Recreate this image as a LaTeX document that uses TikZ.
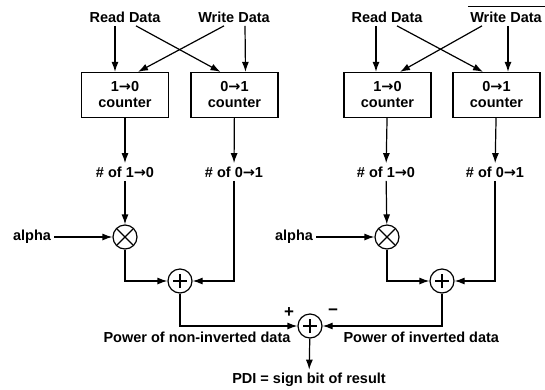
\documentclass[tikz,border=0pt]{standalone}
\usepackage{fontspec}
\setmainfont{Liberation Sans}
\newfontfamily\arrowfont{DejaVu Sans}
\newcommand\flip{{\arrowfont\bfseries →}}
\usetikzlibrary{arrows.meta,positioning}

\begin{document}
\begin{tikzpicture}[x=1pt,y=-1pt,
  font=\fontsize{14.5}{16}\selectfont\bfseries,
  counter/.style={rectangle,draw,line width=1.2pt,align=center,minimum width=87pt,minimum height=45pt,inner sep=0pt},
  mult/.style={circle,draw,line width=1.2pt,minimum size=24pt,inner sep=0pt,
    path picture={\draw[line width=1.2pt]
      ([shift={(-8pt,-8pt)}]path picture bounding box.center) -- ([shift={(8pt,8pt)}]path picture bounding box.center)
      ([shift={(-8pt,8pt)}]path picture bounding box.center) -- ([shift={(8pt,-8pt)}]path picture bounding box.center);}},
  adder/.style={circle,draw,line width=1.2pt,minimum size=24pt,inner sep=0pt,
    path picture={\draw[line width=1.2pt]
      ([xshift=-7pt]path picture bounding box.center) -- ([xshift=7pt]path picture bounding box.center)
      ([yshift=-7pt]path picture bounding box.center) -- ([yshift=7pt]path picture bounding box.center);}},
  arrow/.style={-{Latex[length=10pt,width=7pt]},line width=1.2pt},
  wire/.style={line width=1.2pt}
]
\useasboundingbox (0,0) rectangle (545,389);

% non-inverted half
\node (rd1) at (125,17) {Read Data};
\node (wd1) at (234,17) {Write Data};
\node[counter] (cnt10a) at (125,95) {1\flip0\\counter};
\node[counter] (cnt01a) at (234.5,95) {0\flip1\\counter};
\node (n10a) at (125,172) {\# of 1\flip0};
\node (n01a) at (234,172) {\# of 0\flip1};
\node[mult] (mula) at (125,237) {};
\node (alpha1) at (32,237) {alpha};
\node[adder] (adda) at (180,281) {};

\draw[arrow] ([xshift=-10pt]rd1.south) -- ([xshift=-10pt]cnt10a.north);
\draw[arrow] ([xshift=11pt]rd1.south) -- ([xshift=-14pt]cnt01a.north);
\draw[arrow] ([xshift=11pt]wd1.south) -- ([xshift=11pt]cnt01a.north);
\draw[arrow] ([xshift=-10pt]wd1.south) -- ([xshift=13pt]cnt10a.north);
\draw[arrow] (cnt10a) -- (n10a);
\draw[arrow] (cnt01a) -- (n01a);
\draw[arrow] (n10a) -- (mula);
\draw[arrow] (alpha1) -- (mula);
\draw[arrow] (mula.south) |- (adda.west);
\draw[arrow] (n01a.south) |- (adda.east);

% inverted half
\node (rd2) at (387,17) {Read Data};
\node (wd2) at (506,17) {Write Data};
\node[counter] (cnt10b) at (387.5,95) {1\flip0\\counter};
\node[counter] (cnt01b) at (496.5,95) {0\flip1\\counter};
\node (n10b) at (386,172) {\# of 1\flip0};
\node (n01b) at (495,172) {\# of 0\flip1};
\node[mult] (mulb) at (387,237) {};
\node (alpha2) at (294,237) {alpha};
\node[adder] (addb) at (442,281) {};

\draw[wire] ([yshift=2pt,xshift=1pt]wd2.north west) -- ([yshift=2pt,xshift=3pt]wd2.north east);
\draw[arrow] ([xshift=-11pt]rd2.south) -- ([xshift=-11.5pt]cnt10b.north);
\draw[arrow] ([xshift=10pt]rd2.south) -- ([xshift=-13.5pt]cnt01b.north);
\draw[arrow] ([xshift=2pt]wd2.south) -- ([xshift=11.5pt]cnt01b.north);
\draw[arrow] ([xshift=-24pt]wd2.south) -- ([xshift=12.5pt]cnt10b.north);
\draw[arrow] (cnt10b) -- (n10b);
\draw[arrow] (cnt01b) -- (n01b);
\draw[arrow] (n10b) -- (mulb);
\draw[arrow] (alpha2) -- (mulb);
\draw[arrow] (mulb.south) |- (addb.west);
\draw[arrow] (n01b.south) |- (addb.east);

% difference of the two powers
\node[adder] (diff) at (310,326) {};
\node[font=\fontsize{17}{18}\selectfont\bfseries] (plus) at (289,313) {+};
\node[font=\fontsize{17}{18}\selectfont\bfseries] (minus) at (333,312) {−};
\node[anchor=west] (pwr1) at (100,337) {Power of non-inverted data};
\node[anchor=west] (pwr2) at (340,337) {Power of inverted data};
\node (pdi) at (309,380) {PDI = sign bit of result};
\draw[arrow] (adda.south) |- (diff.west);
\draw[arrow] (addb.south) |- (diff.east);
\draw[arrow] (diff) -- (pdi);
\end{tikzpicture}
\end{document}
